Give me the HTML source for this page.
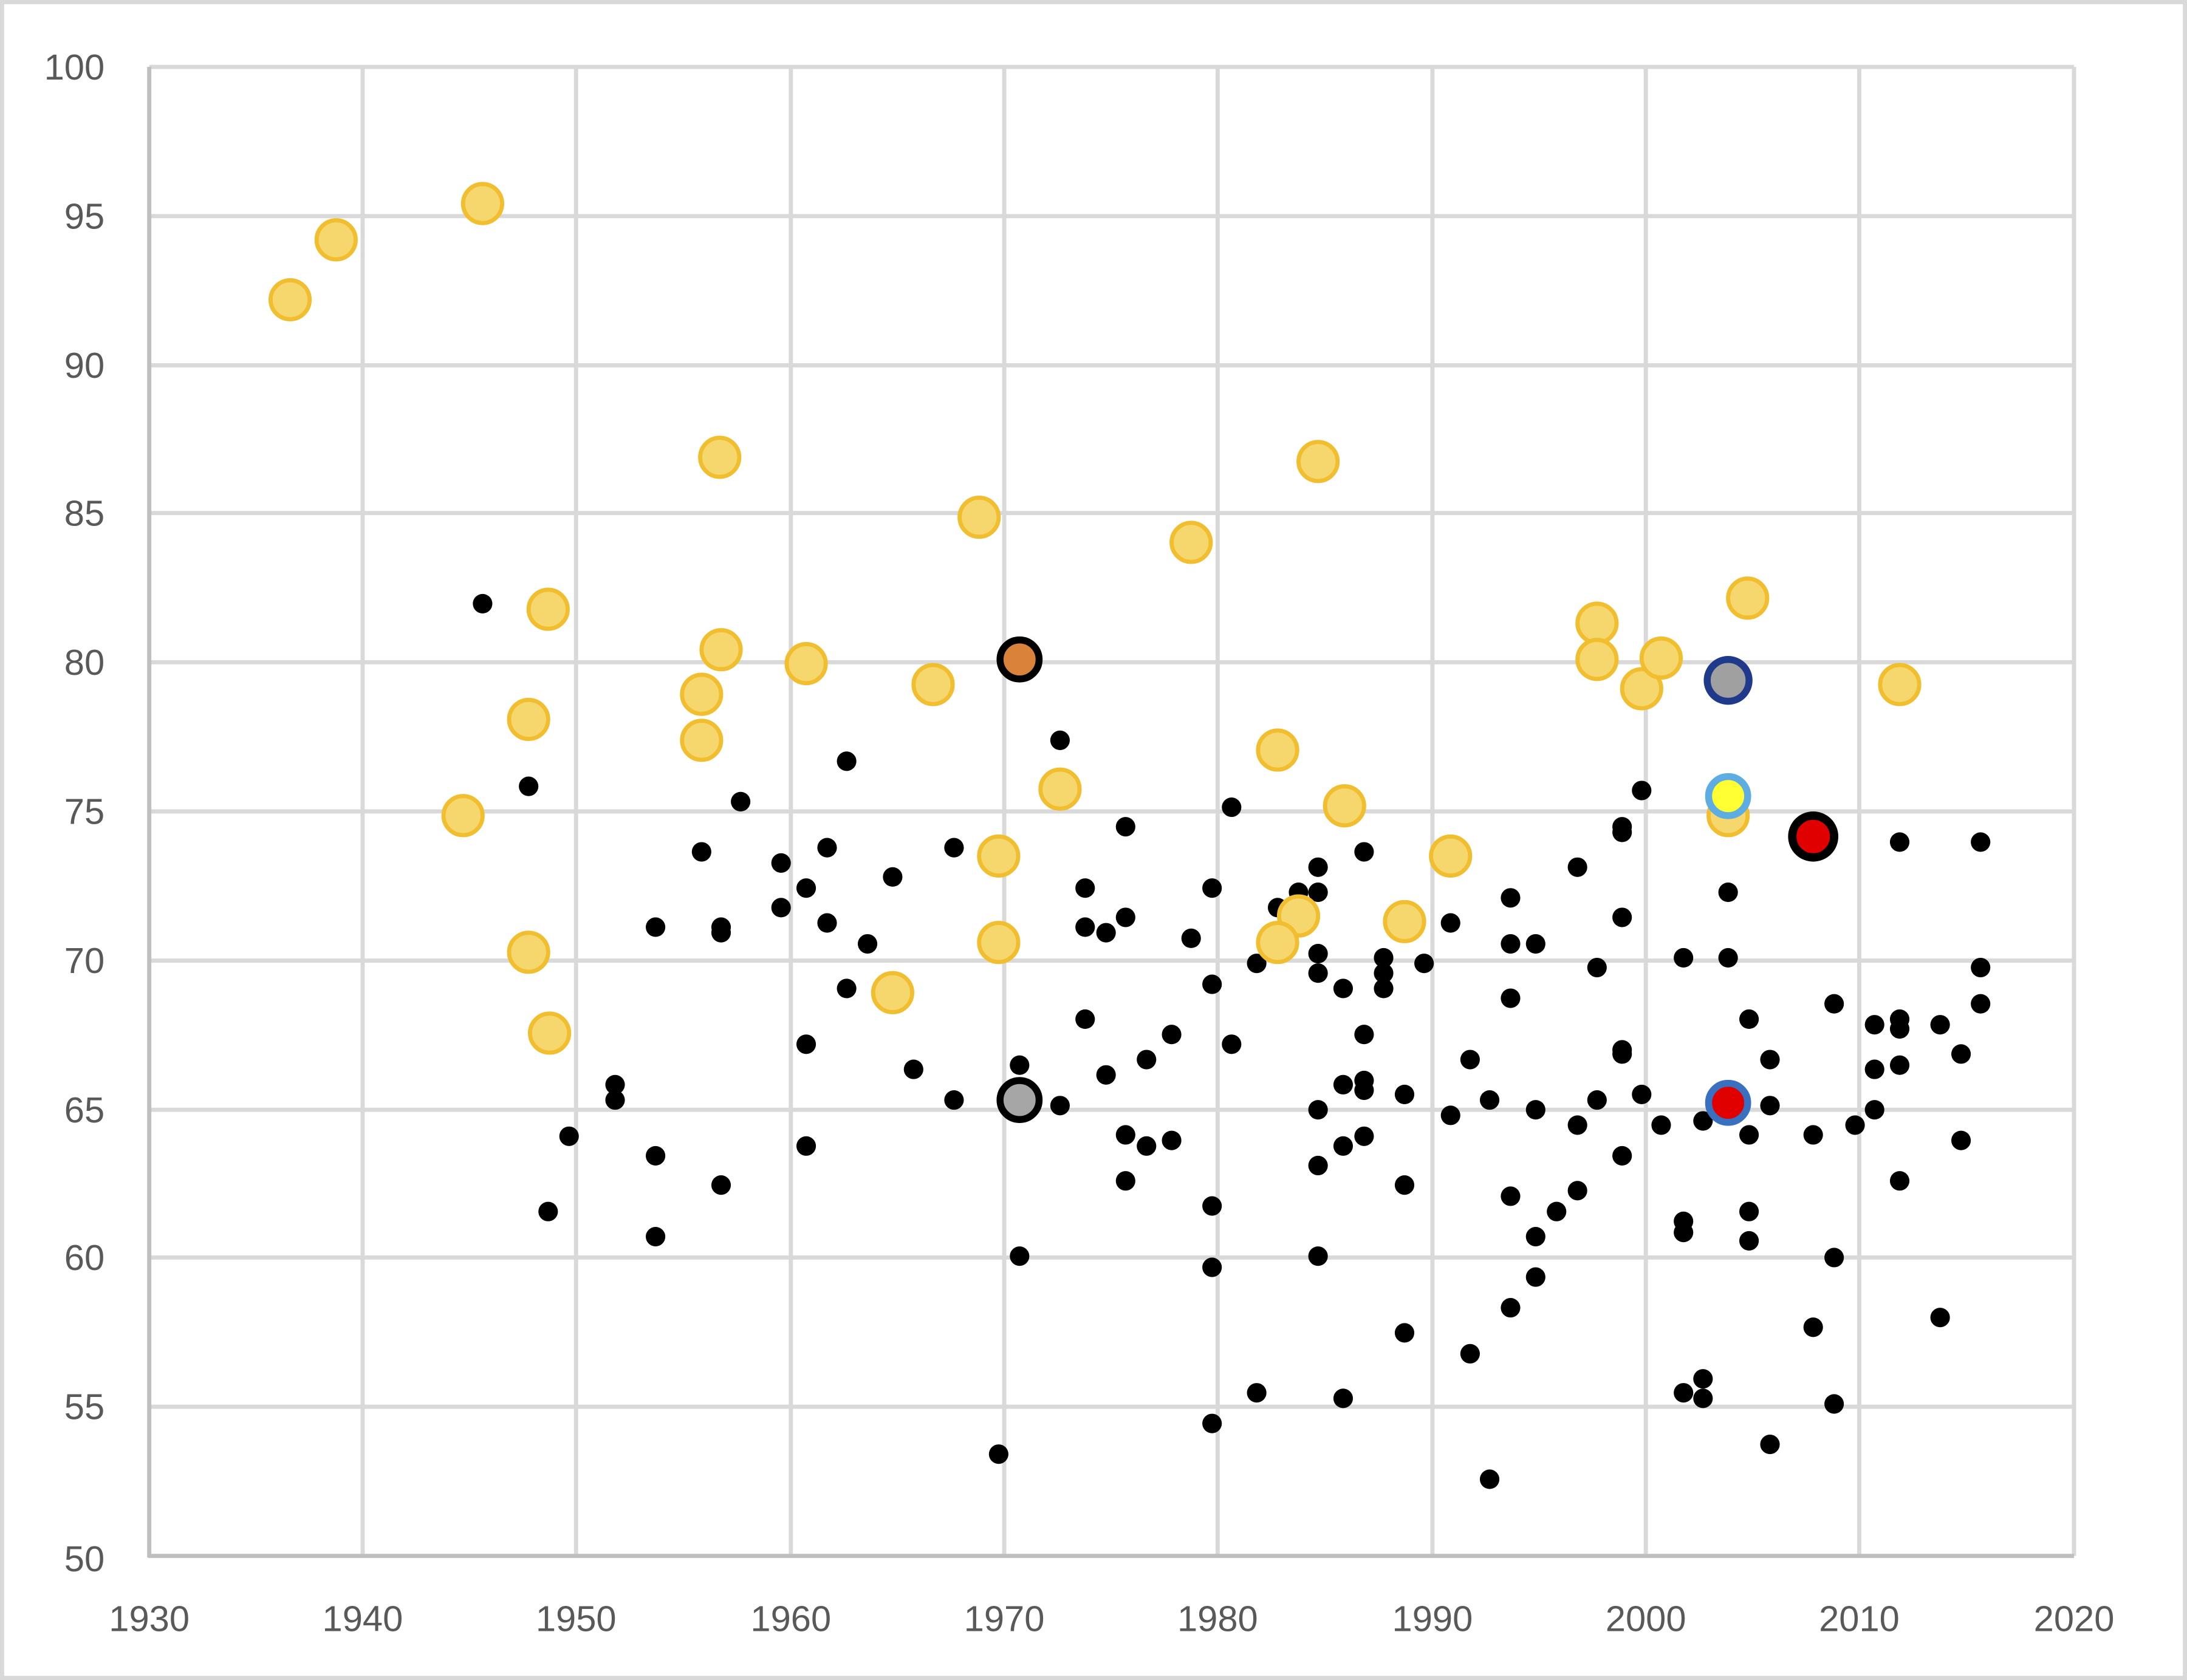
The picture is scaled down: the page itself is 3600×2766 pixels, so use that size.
<!DOCTYPE html>
<html><head><meta charset="utf-8"><style>html,body{margin:0;padding:0;background:#fff}svg{display:block}</style></head>
<body>
<svg width="3600" height="2766" viewBox="0 0 1568 1205" preserveAspectRatio="none" xmlns="http://www.w3.org/2000/svg">
<rect x="1.5" y="1.5" width="1565" height="1202" fill="#fff" stroke="#d9d9d9" stroke-width="3"/>
<g stroke="#d9d9d9" stroke-width="3">
<line x1="107" y1="48" x2="1487" y2="48"/><line x1="107" y1="155" x2="1487" y2="155"/><line x1="107" y1="262" x2="1487" y2="262"/><line x1="107" y1="368" x2="1487" y2="368"/><line x1="107" y1="475" x2="1487" y2="475"/><line x1="107" y1="582" x2="1487" y2="582"/><line x1="107" y1="689" x2="1487" y2="689"/><line x1="107" y1="796" x2="1487" y2="796"/><line x1="107" y1="902" x2="1487" y2="902"/><line x1="107" y1="1009" x2="1487" y2="1009"/>
<line x1="260" y1="48" x2="260" y2="1116"/><line x1="413" y1="48" x2="413" y2="1116"/><line x1="567" y1="48" x2="567" y2="1116"/><line x1="720" y1="48" x2="720" y2="1116"/><line x1="873" y1="48" x2="873" y2="1116"/><line x1="1027" y1="48" x2="1027" y2="1116"/><line x1="1180" y1="48" x2="1180" y2="1116"/><line x1="1333" y1="48" x2="1333" y2="1116"/><line x1="1487" y1="48" x2="1487" y2="1116"/>
</g>
<g stroke="#bfbfbf" stroke-width="3"><line x1="107" y1="48" x2="107" y2="1117"/><line x1="106" y1="1116" x2="1487" y2="1116"/></g>
<g font-family="Liberation Sans, sans-serif" font-size="26" fill="#595959" text-anchor="end">
<text x="75" y="57">100</text><text x="75" y="164">95</text><text x="75" y="271">90</text><text x="75" y="377">85</text><text x="75" y="484">80</text><text x="75" y="591">75</text><text x="75" y="698">70</text><text x="75" y="805">65</text><text x="75" y="911">60</text><text x="75" y="1018">55</text><text x="75" y="1127">50</text>
</g>
<g font-family="Liberation Sans, sans-serif" font-size="26" fill="#595959" text-anchor="middle">
<text x="107" y="1170">1930</text><text x="260" y="1170">1940</text><text x="413" y="1170">1950</text><text x="567" y="1170">1960</text><text x="720" y="1170">1970</text><text x="873" y="1170">1980</text><text x="1027" y="1170">1990</text><text x="1180" y="1170">2000</text><text x="1333" y="1170">2010</text><text x="1487" y="1170">2020</text>
</g>
<g fill="#000">
<circle cx="346" cy="433" r="7"/><circle cx="379" cy="564" r="7"/><circle cx="393" cy="869" r="7"/><circle cx="408" cy="815" r="7"/><circle cx="441" cy="778" r="7"/><circle cx="441" cy="789" r="7"/><circle cx="470" cy="665" r="7"/><circle cx="470" cy="829" r="7"/><circle cx="470" cy="887" r="7"/><circle cx="503" cy="611" r="7"/><circle cx="517" cy="665" r="7"/><circle cx="517" cy="669" r="7"/><circle cx="517" cy="850" r="7"/><circle cx="531" cy="575" r="7"/><circle cx="560" cy="619" r="7"/><circle cx="560" cy="651" r="7"/><circle cx="578" cy="637" r="7"/><circle cx="578" cy="749" r="7"/><circle cx="578" cy="822" r="7"/><circle cx="593" cy="608" r="7"/><circle cx="593" cy="662" r="7"/><circle cx="607" cy="546" r="7"/><circle cx="607" cy="709" r="7"/><circle cx="622" cy="677" r="7"/><circle cx="640" cy="629" r="7"/><circle cx="655" cy="767" r="7"/><circle cx="684" cy="608" r="7"/><circle cx="684" cy="789" r="7"/><circle cx="731" cy="764" r="7"/><circle cx="731" cy="901" r="7"/><circle cx="716" cy="1043" r="7"/><circle cx="760" cy="531" r="7"/><circle cx="760" cy="793" r="7"/><circle cx="778" cy="637" r="7"/><circle cx="778" cy="665" r="7"/><circle cx="778" cy="731" r="7"/><circle cx="793" cy="669" r="7"/><circle cx="793" cy="771" r="7"/><circle cx="807" cy="593" r="7"/><circle cx="807" cy="658" r="7"/><circle cx="807" cy="814" r="7"/><circle cx="807" cy="847" r="7"/><circle cx="822" cy="760" r="7"/><circle cx="822" cy="822" r="7"/><circle cx="840" cy="742" r="7"/><circle cx="840" cy="818" r="7"/><circle cx="854" cy="673" r="7"/><circle cx="869" cy="637" r="7"/><circle cx="869" cy="706" r="7"/><circle cx="869" cy="865" r="7"/><circle cx="869" cy="909" r="7"/><circle cx="869" cy="1021" r="7"/><circle cx="883" cy="579" r="7"/><circle cx="883" cy="749" r="7"/><circle cx="901" cy="691" r="7"/><circle cx="901" cy="999" r="7"/><circle cx="916" cy="651" r="7"/><circle cx="931" cy="640" r="7"/><circle cx="945" cy="622" r="7"/><circle cx="945" cy="640" r="7"/><circle cx="945" cy="684" r="7"/><circle cx="945" cy="698" r="7"/><circle cx="945" cy="796" r="7"/><circle cx="945" cy="836" r="7"/><circle cx="945" cy="901" r="7"/><circle cx="963" cy="709" r="7"/><circle cx="963" cy="778" r="7"/><circle cx="963" cy="822" r="7"/><circle cx="963" cy="1003" r="7"/><circle cx="978" cy="611" r="7"/><circle cx="978" cy="742" r="7"/><circle cx="978" cy="775" r="7"/><circle cx="978" cy="782" r="7"/><circle cx="978" cy="815" r="7"/><circle cx="992" cy="687" r="7"/><circle cx="992" cy="698" r="7"/><circle cx="992" cy="709" r="7"/><circle cx="1007" cy="785" r="7"/><circle cx="1007" cy="850" r="7"/><circle cx="1007" cy="956" r="7"/><circle cx="1021" cy="691" r="7"/><circle cx="1040" cy="662" r="7"/><circle cx="1040" cy="800" r="7"/><circle cx="1054" cy="760" r="7"/><circle cx="1054" cy="971" r="7"/><circle cx="1068" cy="789" r="7"/><circle cx="1068" cy="1061" r="7"/><circle cx="1083" cy="644" r="7"/><circle cx="1083" cy="677" r="7"/><circle cx="1083" cy="716" r="7"/><circle cx="1083" cy="858" r="7"/><circle cx="1083" cy="938" r="7"/><circle cx="1101" cy="677" r="7"/><circle cx="1101" cy="796" r="7"/><circle cx="1101" cy="887" r="7"/><circle cx="1101" cy="916" r="7"/><circle cx="1116" cy="869" r="7"/><circle cx="1131" cy="622" r="7"/><circle cx="1131" cy="807" r="7"/><circle cx="1131" cy="854" r="7"/><circle cx="1145" cy="694" r="7"/><circle cx="1145" cy="789" r="7"/><circle cx="1163" cy="593" r="7"/><circle cx="1163" cy="597" r="7"/><circle cx="1163" cy="658" r="7"/><circle cx="1163" cy="753" r="7"/><circle cx="1163" cy="756" r="7"/><circle cx="1163" cy="829" r="7"/><circle cx="1177" cy="567" r="7"/><circle cx="1177" cy="785" r="7"/><circle cx="1191" cy="807" r="7"/><circle cx="1207" cy="687" r="7"/><circle cx="1207" cy="876" r="7"/><circle cx="1207" cy="884" r="7"/><circle cx="1207" cy="999" r="7"/><circle cx="1221" cy="804" r="7"/><circle cx="1221" cy="989" r="7"/><circle cx="1221" cy="1003" r="7"/><circle cx="1239" cy="640" r="7"/><circle cx="1239" cy="687" r="7"/><circle cx="1254" cy="731" r="7"/><circle cx="1254" cy="814" r="7"/><circle cx="1254" cy="869" r="7"/><circle cx="1254" cy="890" r="7"/><circle cx="1269" cy="760" r="7"/><circle cx="1269" cy="793" r="7"/><circle cx="1269" cy="1036" r="7"/><circle cx="1300" cy="814" r="7"/><circle cx="1300" cy="952" r="7"/><circle cx="1315" cy="720" r="7"/><circle cx="1315" cy="902" r="7"/><circle cx="1315" cy="1007" r="7"/><circle cx="1330" cy="807" r="7"/><circle cx="1344" cy="735" r="7"/><circle cx="1344" cy="767" r="7"/><circle cx="1344" cy="796" r="7"/><circle cx="1362" cy="604" r="7"/><circle cx="1362" cy="731" r="7"/><circle cx="1362" cy="738" r="7"/><circle cx="1362" cy="764" r="7"/><circle cx="1362" cy="847" r="7"/><circle cx="1391" cy="735" r="7"/><circle cx="1391" cy="945" r="7"/><circle cx="1406" cy="756" r="7"/><circle cx="1406" cy="818" r="7"/><circle cx="1420" cy="604" r="7"/><circle cx="1420" cy="694" r="7"/><circle cx="1420" cy="720" r="7"/>
</g>
<g fill="#F6D76E" stroke="#F0BE2E" stroke-width="3">
<circle cx="208" cy="215" r="14"/><circle cx="241" cy="172" r="14"/><circle cx="346" cy="146" r="14"/><circle cx="393" cy="437" r="14"/><circle cx="379" cy="516" r="14"/><circle cx="332" cy="585" r="14"/><circle cx="379" cy="683" r="14"/><circle cx="394" cy="741" r="14"/><circle cx="516" cy="328" r="14"/><circle cx="517" cy="466" r="14"/><circle cx="503" cy="498" r="14"/><circle cx="503" cy="531" r="14"/><circle cx="578" cy="476" r="14"/><circle cx="640" cy="712" r="14"/><circle cx="669" cy="491" r="14"/><circle cx="702" cy="371" r="14"/><circle cx="716" cy="614" r="14"/><circle cx="716" cy="676" r="14"/><circle cx="760" cy="566" r="14"/><circle cx="854" cy="389" r="14"/><circle cx="945" cy="331" r="14"/><circle cx="916" cy="538" r="14"/><circle cx="931" cy="657" r="14"/><circle cx="916" cy="676" r="14"/><circle cx="964" cy="578" r="14"/><circle cx="1007" cy="661" r="14"/><circle cx="1040" cy="614" r="14"/><circle cx="1145" cy="447" r="14"/><circle cx="1145" cy="473" r="14"/><circle cx="1177" cy="494" r="14"/><circle cx="1191" cy="472" r="14"/><circle cx="1253" cy="429" r="14"/><circle cx="1239" cy="585" r="14"/><circle cx="1362" cy="491" r="14"/>
</g>
<circle cx="731" cy="473" r="14" fill="#D9823A" stroke="#000" stroke-width="5"/>
<circle cx="731" cy="789" r="14" fill="#A6A6A6" stroke="#000" stroke-width="5"/>
<circle cx="1239" cy="488" r="15" fill="#A0A0A0" stroke="#1F3A8A" stroke-width="5"/>
<circle cx="1239" cy="571" r="14" fill="#FFFF33" stroke="#5DADE2" stroke-width="5"/>
<circle cx="1300" cy="600" r="15" fill="#E00000" stroke="#000" stroke-width="6"/>
<circle cx="1239" cy="791" r="14" fill="#E00000" stroke="#3A70C0" stroke-width="5"/>
</svg>
</body></html>
